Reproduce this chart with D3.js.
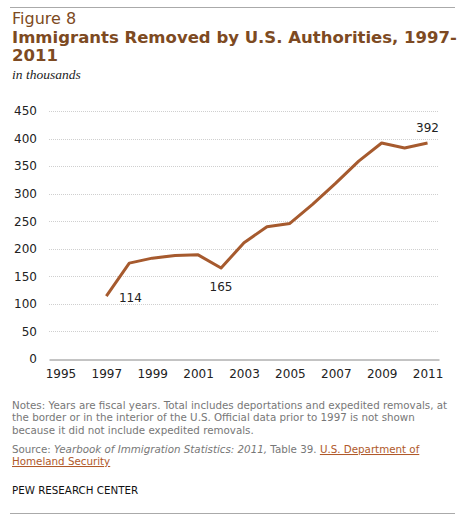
<!DOCTYPE html>
<html>
<head>
<meta charset="utf-8">
<script src="https://cdn.jsdelivr.net/npm/d3@7"></script>
<style>
  body { margin: 0; background: #fff; }
  svg { display: block; }
</style>
</head>
<body>
<div id="chart"></div>
<script>
// donnees (milliers)
const years = [1997, 1998, 1999, 2000, 2001, 2002, 2003, 2004, 2005, 2006, 2007, 2008, 2009, 2010, 2011];
const removals = [114, 174, 183, 188, 189, 165, 211, 240, 246, 281, 319, 359, 392, 383, 392];
const xTicks = [1995, 1997, 1999, 2001, 2003, 2005, 2007, 2009, 2011];
const yTicks = [0, 50, 100, 150, 200, 250, 300, 350, 400, 450];
const labelled = [1997, 2002, 2011];

const width = 470, height = 524;
const brown = "#a65a2e";
const titleColor = "#7d4a22";
const font = "'DejaVu Sans', Verdana, sans-serif";

const svg = d3.select("#chart").append("svg")
    .attr("width", width)
    .attr("height", height);

// filets haut et bas
svg.append("line").attr("x1", 10).attr("x2", 455).attr("y1", 7.5).attr("y2", 7.5)
    .attr("stroke", "#aaa").attr("stroke-width", 1);
svg.append("line").attr("x1", 10).attr("x2", 455).attr("y1", 513.5).attr("y2", 513.5)
    .attr("stroke", "#aaa").attr("stroke-width", 1);

svg.append("text").attr("x", 12).attr("y", 24)
    .attr("font-family", font).attr("font-size", 16).attr("fill", titleColor)
    .text("Figure 8");

svg.append("text").attr("x", 12).attr("y", 43)
    .attr("font-family", font).attr("font-size", 16.5).attr("font-weight", "bold").attr("fill", titleColor)
    .text("Immigrants Removed by U.S. Authorities, 1997-");
svg.append("text").attr("x", 12).attr("y", 61)
    .attr("font-family", font).attr("font-size", 16.5).attr("font-weight", "bold").attr("fill", titleColor)
    .text("2011");

svg.append("text").attr("x", 12).attr("y", 79)
    .attr("font-family", "'Liberation Serif', Georgia, serif").attr("font-style", "italic")
    .attr("font-size", 13.5).attr("fill", "#222")
    .text("in thousands");

const x = d3.scaleLinear().domain([1994.5, 2011.5]).range([49, 439]);
const y = d3.scaleLinear().domain([0, 450]).range([359, 111]);

// grille
svg.append("g")
    .selectAll("line")
    .data(yTicks.filter(d => d > 0))
    .join("line")
    .attr("x1", x.range()[0]).attr("x2", x.range()[1])
    .attr("y1", d => Math.round(y(d)) + 0.5).attr("y2", d => Math.round(y(d)) + 0.5)
    .attr("stroke", "#cfcfcf").attr("stroke-dasharray", "1,1");

const yAxis = svg.append("g")
    .attr("transform", `translate(${x.range()[0]},0)`)
    .call(d3.axisLeft(y).tickValues(yTicks).tickSize(0).tickPadding(12));
yAxis.select(".domain").remove();
yAxis.selectAll("text").attr("font-family", font).attr("font-size", 12).attr("fill", "#222");

const xAxis = svg.append("g")
    .attr("transform", `translate(0,${Math.round(y(0)) + 0.5})`)
    .call(d3.axisBottom(x).tickValues(xTicks).tickFormat(d3.format("d")).tickSize(0).tickPadding(10));
xAxis.select(".domain").attr("stroke", "#888");
xAxis.selectAll("text").attr("font-family", font).attr("font-size", 12).attr("fill", "#222");

const data = years.map((yr, i) => ({ year: yr, value: removals[i] }));

const line = d3.line().x(d => x(d.year)).y(d => y(d.value));

svg.append("path")
    .datum(data)
    .attr("d", line)
    .attr("fill", "none")
    .attr("stroke", brown)
    .attr("stroke-width", 3)
    .attr("stroke-linejoin", "round");

// etiquettes
const labelOffset = { 1997: [24, 6], 2002: [0, 23], 2011: [0, -11] };
svg.append("g")
    .selectAll("text")
    .data(data.filter(d => labelled.includes(d.year)))
    .join("text")
    .attr("x", d => x(d.year) + labelOffset[d.year][0])
    .attr("y", d => y(d.value) + labelOffset[d.year][1])
    .attr("text-anchor", "middle")
    .attr("font-family", font).attr("font-size", 12).attr("fill", "#222")
    .text(d => d.value);

// notes
const notes = [
    "Notes: Years are fiscal years. Total includes deportations and expedited removals, at",
    "the border or in the interior of the U.S. Official data prior to 1997 is not shown",
    "because it did not include expedited removals."
];
svg.append("g").selectAll("text")
    .data(notes)
    .join("text")
    .attr("x", 12).attr("y", (d, i) => 409 + i * 12.3)
    .attr("font-family", font).attr("font-size", 10.3).attr("fill", "#777")
    .text(d => d);

const src = svg.append("text").attr("x", 12).attr("y", 453)
    .attr("font-family", font).attr("font-size", 10.3).attr("fill", "#777");
src.append("tspan").text("Source: ");
src.append("tspan").attr("font-style", "italic").text("Yearbook of Immigration Statistics: 2011,");
src.append("tspan").text(" Table 39. ");
src.append("tspan").attr("fill", "#b0592a").attr("text-decoration", "underline").text("U.S. Department of");

svg.append("text").attr("x", 12).attr("y", 465)
    .attr("font-family", font).attr("font-size", 10.3).attr("fill", "#b0592a")
    .attr("text-decoration", "underline")
    .text("Homeland Security");

svg.append("text").attr("x", 12).attr("y", 494)
    .attr("font-family", font).attr("font-size", 10.3).attr("fill", "#111")
    .text("PEW RESEARCH CENTER");
</script>
</body>
</html>
